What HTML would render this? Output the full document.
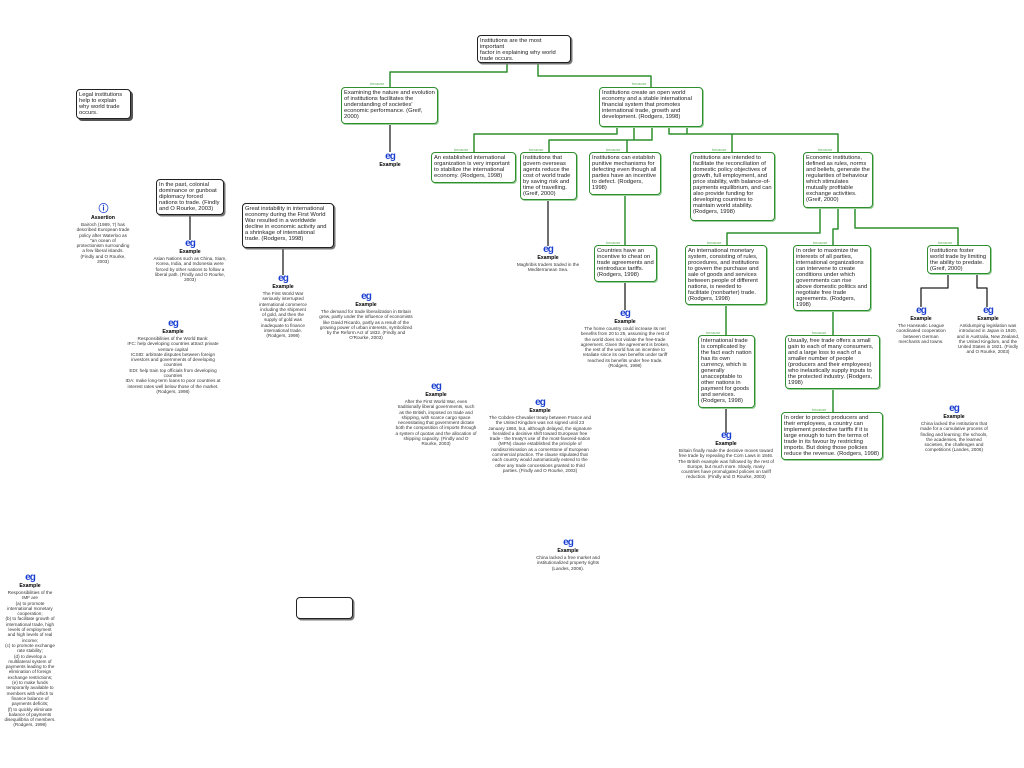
<!DOCTYPE html>
<html><head><meta charset="utf-8"><style>
body{margin:0;width:1024px;height:768px;background:#fff;position:relative;overflow:hidden;font-family:"Liberation Sans",sans-serif;}
.b{position:absolute;box-sizing:border-box;border:1.5px solid #2f8f2f;border-radius:4px;background:#fff;font-size:5.8px;line-height:6.1px;padding:1.5px 2px;color:#222;box-shadow:1px 1px 0 #9fd09f;overflow:hidden;}
.k{border-color:#222;box-shadow:1.5px 1.5px 0 #777;}
.e{position:absolute;text-align:center;font-size:4.6px;line-height:5.3px;color:#333;}
.e .ic{display:block;color:#1a3fd0;font-size:10px;line-height:10px;font-weight:bold;letter-spacing:-1px;}
.e b{display:block;color:#000;font-size:5.2px;line-height:7px;}
.lb{position:absolute;font-size:3.8px;color:#5fb05f;}
svg{position:absolute;left:0;top:0;}
</style></head><body>
<svg width="1024" height="768" fill="none" stroke-linejoin="round">
<g stroke="#2f8f2f" stroke-width="1.5">
<path d="M507 63V72H390V87M538 63V76H651V87"/>
<path d="M617 127V134H474V152M634 127V140H549V152M652 127V140H627V152M669 127V134H732V152M687 127V134H838V152"/>
<path d="M625 195V245M820 208V233H727V245M838 208V229H833V245M855 208V228H958V245M726 305V335M833 311V335M833 389V412"/>
</g>
<g stroke="#222" stroke-width="1.3">
<path d="M390 124V152M548 200V246M625 282V310M726 408V433M190 215V240M283 248V275M948 274V288H921V307M977 274V288H987V307"/>
</g>
</svg>
<div class="lb" style="left:370px;top:82px">because</div>
<div class="lb" style="left:632px;top:82px">because</div>
<div class="lb" style="left:454px;top:148px">because</div>
<div class="lb" style="left:529px;top:148px">because</div>
<div class="lb" style="left:606px;top:148px">because</div>
<div class="lb" style="left:712px;top:148px">because</div>
<div class="lb" style="left:818px;top:148px">because</div>
<div class="lb" style="left:606px;top:241px">because</div>
<div class="lb" style="left:707px;top:241px">because</div>
<div class="lb" style="left:813px;top:241px">because</div>
<div class="lb" style="left:938px;top:241px">because</div>
<div class="lb" style="left:706px;top:331px">because</div>
<div class="lb" style="left:812px;top:331px">because</div>
<div class="lb" style="left:812px;top:408px">because</div>

<div class="b k" style="left:477px;top:35px;width:94px;height:28px">Institutions are the most<br>important<br>factor in explaining why world<br>trade occurs.</div>
<div class="b" style="left:341px;top:87px;width:97px;height:37px">Examining the nature and evolution of institutions facilitates the understanding of societies' economic performance. (Greif, 2000)</div>
<div class="b" style="left:599px;top:87px;width:104px;height:40px">Institutions create an open world economy and a stable international financial system that promotes international trade, growth and development. (Rodgers, 1998)</div>
<div class="b" style="left:431px;top:152px;width:85px;height:31px">An established international organization is very important to stabilize the international economy. (Rodgers, 1998)</div>
<div class="b" style="left:520px;top:152px;width:57px;height:48px">Institutions that govern overseas agents reduce the cost of world trade by saving risk and time of travelling. (Greif, 2000)</div>
<div class="b" style="left:589px;top:152px;width:72px;height:43px">Institutions can establish punitive mechanisms for defecting even though all parties have an incentive to defect. (Rodgers, 1998)</div>
<div class="b" style="left:690px;top:152px;width:85px;height:69px">Institutions are intended to facilitate the reconciliation of domestic policy objectives of growth, full employment, and price stability, with balance-of-payments equilibrium, and can also provide funding for developing countries to maintain world stability. (Rodgers, 1998)</div>
<div class="b" style="left:803px;top:152px;width:70px;height:56px">Economic institutions, defined as rules, norms and beliefs, generate the regularities of behaviour which stimulates mutually profitable exchange activities. (Greif, 2000)</div>
<div class="b" style="left:594px;top:245px;width:63px;height:37px">Countries have an incentive to cheat on trade agreements and reintroduce tariffs. (Rodgers, 1998)</div>
<div class="b" style="left:685px;top:245px;width:82px;height:60px">An international monetary system, consisting of rules, procedures, and institutions to govern the purchase and sale of goods and services between people of different nations, is needed to facilitate (nonbarter) trade. (Rodgers, 1998)</div>
<div class="b" style="left:793px;top:245px;width:78px;height:66px">In order to maximize the interests of all parties, international organizations can intervene to create conditions under which governments can rise above domestic politics and negotiate free trade agreements. (Rodgers, 1998)</div>
<div class="b" style="left:927px;top:245px;width:64px;height:29px">Institutions foster world trade by limiting the ability to predate. (Greif, 2000)</div>
<div class="b" style="left:698px;top:335px;width:57px;height:73px">International trade is complicated by the fact each nation has its own currency, which is generally unacceptable to other nations in payment for goods and services. (Rodgers, 1998)</div>
<div class="b" style="left:785px;top:335px;width:95px;height:54px">Usually, free trade offers a small gain to each of many consumers, and a large loss to each of a smaller number of people (producers and their employees) who inelastically supply inputs to the protected industry. (Rodgers, 1998)</div>
<div class="b" style="left:781px;top:412px;width:102px;height:48px">In order to protect producers and their employees, a country can implement protective tariffs if it is large enough to turn the terms of trade in its favour by restricting imports. But doing those policies reduce the revenue. (Rodgers, 1998)</div>
<div class="b k" style="left:76px;top:89px;width:55px;height:30px;box-shadow:2px 2px 0 #555">Legal institutions help to explain why world trade occurs.</div>
<div class="b k" style="left:156px;top:179px;width:68px;height:36px">In the past, colonial dominance or gunboat diplomacy forced nations to trade. (Findly and O Rourke, 2003)</div>
<div class="b k" style="left:242px;top:203px;width:92px;height:45px">Great instability in international economy during the First World War resulted in a worldwide decline in economic activity and a shrinkage of international trade. (Rodgers, 1998)</div>
<div class="b k" style="left:296px;top:597px;width:57px;height:22px"></div>

<div class="e" style="left:365px;top:152px;width:50px"><span class="ic">eg</span><b>Example</b></div>
<div class="e" style="left:513px;top:245px;width:70px"><span class="ic">eg</span><b>Example</b>Maghribis traders traded in the Mediterranean Sea.</div>
<div class="e" style="left:580px;top:309px;width:90px"><span class="ic">eg</span><b>Example</b>The home country could increase its net benefits from 20 to 25, assuming the rest of the world does not violate the free-trade agreement. Given the agreement is broken, the rest of the world has an incentive to retaliate since its own benefits under tariff reached its benefits under free trade. (Rodgers, 1998)</div>
<div class="e" style="left:678px;top:431px;width:96px"><span class="ic">eg</span><b>Example</b>Britain finally made the decisive moves toward free trade by repealing the Corn Laws in 1846. The British example was followed by the rest of Europe, but much more. Slowly, many countries have promulgated policies on tariff reduction. (Findly and O Rourke, 2003)</div>
<div class="e" style="left:893px;top:306px;width:56px"><span class="ic">eg</span><b>Example</b>The Hanseatic League coordinated cooperation between German merchants and towns.</div>
<div class="e" style="left:955px;top:306px;width:66px"><span class="ic">eg</span><b>Example</b>Antidumping legislation was introduced in Japan in 1920, and in Australia, New Zealand, the United Kingdom, and the United States in 1921. (Findly and O Rourke, 2003)</div>
<div class="e" style="left:918px;top:404px;width:72px"><span class="ic">eg</span><b>Example</b>China lacked the institutions that made for a cumulative process of finding and learning: the schools, the academies, the learned societies, the challenges and competitions (Landes, 2006)</div>
<div class="e" style="left:76px;top:205px;width:54px"><span class="ic" style="font-size:10px">&#9432;</span><b>Assertion</b>Bairoch (1989, 7) has described European trade policy after Waterloo as "an ocean of protectionism surrounding a few liberal islands. (Findly and O Rourke, 2003)</div>
<div class="e" style="left:152px;top:239px;width:76px"><span class="ic">eg</span><b>Example</b>Asian Nations such as China, Siam, Korea, India, and Indonesia were forced by other nations to follow a liberal path. (Findly and O Rourke, 2003)</div>
<div class="e" style="left:258px;top:274px;width:50px"><span class="ic">eg</span><b>Example</b>The First World War seriously interrupted international commerce including the shipment of gold, and then the supply of gold was inadequate to finance international trade. (Rodgers, 1998)</div>
<div class="e" style="left:318px;top:292px;width:96px"><span class="ic">eg</span><b>Example</b>The demand for trade liberalization in Britain grew, partly under the influence of economists like David Ricardo, partly as a result of the growing power of urban interests, symbolized by the Reform Act of 1832. (Findly and O'Rourke, 2003)</div>
<div class="e" style="left:125px;top:319px;width:96px"><span class="ic">eg</span><b>Example</b>Responsibilities of the World Bank:<br>IFC: help developing countries attract private venture capital<br>ICSID: arbitrate disputes between foreign investors and governments of developing countries<br>EDI: help train top officials from developing countries<br>IDA: make long-term loans to poor countries at interest rates well below those of the market. (Rodgers, 1998)</div>
<div class="e" style="left:395px;top:382px;width:82px"><span class="ic">eg</span><b>Example</b>After the First World War, even traditionally liberal governments, such as the British, imposed on trade and shipping, with scarce cargo space necessitating that government dictate both the composition of imports through a system of quotas and the allocation of shipping capacity. (Findly and O Rourke, 2003)</div>
<div class="e" style="left:488px;top:398px;width:104px"><span class="ic">eg</span><b>Example</b>The Cobden-Chevalier treaty between France and the United Kingdom was not signed until 23 January 1860, but, although delayed, the signature heralded a decisive shift toward European free trade - the treaty's use of the most-favored-nation (MFN) clause established the principle of nondiscrimination as a cornerstone of European commercial practice. The clause stipulated that each country would automatically extend to the other any trade concessions granted to third parties. (Findly and O Rourke, 2003)</div>
<div class="e" style="left:536px;top:538px;width:64px"><span class="ic">eg</span><b>Example</b>China lacked a free market and institutionalized property rights (Landes, 2006).</div>
<div class="e" style="left:4px;top:573px;width:52px"><span class="ic">eg</span><b>Example</b>Responsibilities of the IMF are<br>(a) to promote international monetary cooperation;<br>(b) to facilitate growth of international trade, high levels of employment and high levels of real income;<br>(c) to promote exchange rate stability;<br>(d) to develop a multilateral system of payments leading to the elimination of foreign exchange restrictions;<br>(e) to make funds temporarily available to members with which to finance balance of payments deficits;<br>(f) to quickly eliminate balance of payments disequilibria of members. (Rodgers, 1998)</div>
</body></html>
